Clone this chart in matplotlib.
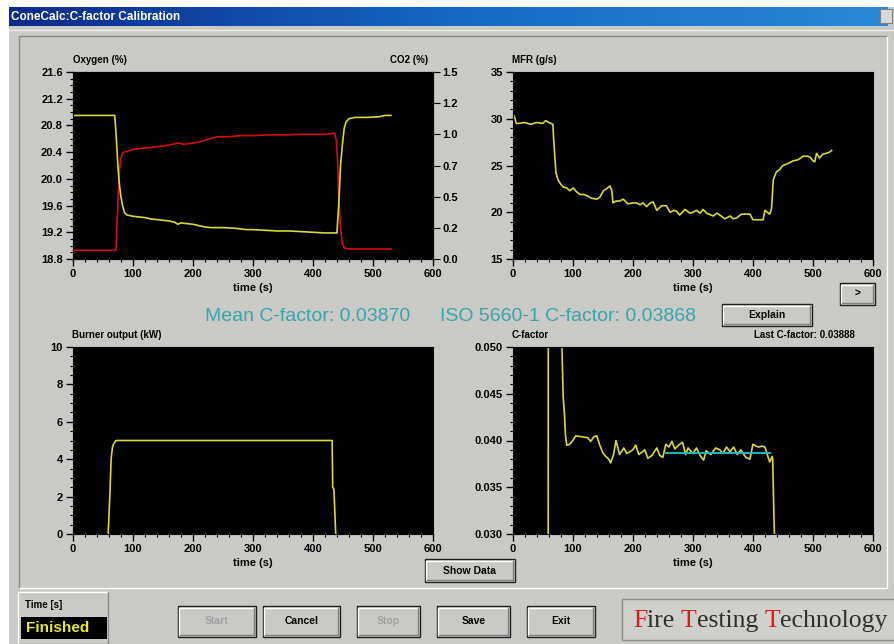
import matplotlib
matplotlib.use("Agg")
import matplotlib.pyplot as plt
import numpy as np
from matplotlib.patches import Rectangle
from matplotlib.ticker import AutoMinorLocator, FixedLocator
from matplotlib.colors import LinearSegmentedColormap

# ---- data ----
o2_t = [0, 70, 72, 74, 76, 78, 80, 83, 86, 90, 95, 100, 110, 120, 130, 140, 150, 160, 170, 175,
        180, 190, 200, 210, 220, 230, 250, 270, 290, 300, 320, 340, 360, 380, 400, 420, 440,
        443, 446, 449, 452, 455, 460, 470, 490, 510, 520, 530]
o2_v = [20.95, 20.95, 20.7, 20.4, 20.1, 19.9, 19.75, 19.6, 19.5, 19.46, 19.45, 19.44, 19.43,
        19.42, 19.40, 19.39, 19.38, 19.37, 19.35, 19.32, 19.34, 19.33, 19.32, 19.30, 19.28,
        19.27, 19.27, 19.26, 19.24, 19.24, 19.23, 19.22, 19.22, 19.21, 19.20, 19.19, 19.19,
        19.6, 20.2, 20.5, 20.75, 20.85, 20.9, 20.92, 20.92, 20.93, 20.95, 20.95]

co2_t = [0, 72, 74, 76, 78, 80, 83, 86, 90, 100, 120, 140, 156, 175, 185, 200, 212, 225, 240,
         260, 280, 300, 323, 350, 380, 400, 420, 436, 439, 441, 443, 446, 449, 452, 460, 530]
co2_v = [0.07, 0.07, 0.3, 0.55, 0.72, 0.80, 0.85, 0.86, 0.86, 0.88, 0.89, 0.90, 0.91, 0.93,
         0.92, 0.93, 0.94, 0.96, 0.98, 0.98, 0.99, 0.99, 0.995, 0.995, 1.0, 1.0, 1.0, 1.01,
         0.95, 0.8, 0.5, 0.25, 0.12, 0.09, 0.08, 0.08]

mfr_t = [0, 3, 6, 10, 20, 30, 40, 50, 55, 60, 67, 68, 70, 72, 76, 80, 84, 90, 95, 101, 106,
         112, 118, 123, 131, 140, 145, 151, 156, 162, 165, 167, 172, 178, 184, 192, 200, 206,
         212, 217, 223, 229, 234, 240, 248, 256, 262, 268, 273, 278, 287, 295, 300, 306, 312,
         317, 323, 334, 340, 345, 353, 362, 367, 373, 381, 390, 395, 400, 410, 417, 420, 424,
         428, 431, 434, 439, 445, 450, 458, 467, 475, 484, 490, 495, 500, 503, 506, 511, 516,
         522, 527, 531]
mfr_v = [30.6, 30.2, 29.5, 29.5, 29.6, 29.4, 29.6, 29.5, 29.8, 29.6, 29.4, 28.0, 26.1, 24.2,
         23.4, 23.0, 22.7, 22.6, 22.3, 22.6, 22.2, 21.9, 21.9, 21.8, 21.5, 21.4, 21.6, 22.3,
         22.5, 22.8, 22.3, 21.0, 21.2, 21.2, 21.4, 20.9, 21.0, 21.0, 20.8, 21.0, 20.6, 21.0,
         21.1, 20.2, 20.7, 20.7, 20.0, 20.2, 20.1, 19.7, 20.3, 19.9, 20.0, 20.2, 19.9, 20.3,
         19.9, 19.6, 19.9, 19.7, 19.3, 19.6, 19.3, 19.4, 19.8, 19.8, 19.8, 19.2, 19.2, 19.2,
         20.2, 20.0, 19.8, 20.4, 23.5, 24.3, 24.6, 25.0, 25.2, 25.5, 25.6, 26.0, 26.0, 25.9,
         25.5, 25.4, 26.3, 25.8, 26.2, 26.3, 26.4, 26.6]

burner_t = [59, 60, 62, 64, 66, 68, 72, 80, 432, 433, 435, 437, 438]
burner_v = [0, 0.7, 2.2, 4.0, 4.6, 4.8, 5.0, 5.0, 5.0, 2.5, 2.4, 0.8, 0]

cf_t = [59, 59.5, 81, 82, 84, 86, 88, 90, 95, 100, 105, 115, 125, 130, 135, 140, 145, 150,
        155, 160, 163, 168, 172, 178, 185, 190, 200, 205, 210, 220, 225, 232, 240, 245, 250,
        255, 260, 265, 270, 278, 283, 288, 292, 300, 306, 312, 318, 322, 330, 338, 345, 350,
        356, 362, 368, 374, 380, 388, 395, 400, 405, 410, 415, 420, 425, 428, 432, 433, 435, 438]
cf_v = [0.020, 0.080, 0.080, 0.050, 0.0447, 0.0430, 0.0405, 0.0395, 0.0396, 0.0400, 0.0405,
        0.0404, 0.0403, 0.0399, 0.0404, 0.0405, 0.0395, 0.0387, 0.0383, 0.0380, 0.0376, 0.0385,
        0.0400, 0.0385, 0.0392, 0.0386, 0.0390, 0.0395, 0.0385, 0.0390, 0.0381, 0.0384, 0.0392,
        0.0384, 0.0382, 0.0396, 0.0393, 0.0399, 0.0391, 0.0396, 0.0398, 0.0385, 0.0392, 0.0386,
        0.0392, 0.0384, 0.0379, 0.0389, 0.0385, 0.0392, 0.0390, 0.0386, 0.0393, 0.0388, 0.0393,
        0.0385, 0.0390, 0.0382, 0.0380, 0.0396, 0.0394, 0.0393, 0.0394, 0.0393, 0.0383, 0.0377,
        0.0383, 0.0380, 0.0320, 0.0250]

iso_cf = 0.03868
iso_t = [256, 428]

time_ticks = [0, 100, 200, 300, 400, 500, 600]
co2_ticks = [0, 0.25, 0.5, 0.75, 1.0, 1.25, 1.5]
co2_labels = ["0.0", "0.2", "0.5", "0.7", "1.0", "1.2", "1.5"]

W, H = 895, 644
GRAY = "#c9c9c6"
YEL = "#d8d83a"
font = "Liberation Sans"

plt.rcParams["font.family"] = [font, "DejaVu Sans"]

fig = plt.figure(figsize=(W / 100, H / 100), dpi=100)
fig.patch.set_facecolor("white")

bg = fig.add_axes([0, 0, 1, 1], zorder=-5)
bg.set_axis_off()

# window body and title bar
bg.add_patch(Rectangle((9, 7), W - 9, H - 7, fc=GRAY, ec="none", zorder=0))
cmap = LinearSegmentedColormap.from_list("tb", ["#0c2a8c", "#1668c4", "#2a8ad8"])
bg.imshow(np.linspace(0, 1, 200).reshape(1, -1), cmap=cmap, aspect="auto",
          extent=[9, 888, 26, 7], zorder=2)
bg.add_patch(Rectangle((880, 9), 12, 14, fc="#d8d8d8", ec="#808080", lw=0.8, zorder=3))
bg.text(11, 16.5, "ConeCalc:C-factor Calibration", color="white", fontsize=8.5,
        fontweight="bold", va="center", ha="left", zorder=4)
bg.plot([9, W], [30, 30], color="#eeeeee", lw=1)

# sunken frame around the plots
bg.plot([19, 19, 886], [587, 36, 36], color="#8a8a8a", lw=1)
bg.plot([20, 887, 887], [588, 588, 37], color="white", lw=1)


def button(x0, y0, x1, y1, label, color="black", size=7.5):
    bg.add_patch(Rectangle((x0, y0), x1 - x0, y1 - y0, fc=GRAY, ec="#202020", lw=1))
    bg.plot([x0 + 1.5, x0 + 1.5, x1 - 2], [y1 - 2, y0 + 1.5, y0 + 1.5], color="white", lw=1)
    bg.plot([x0 + 2, x1 - 2, x1 - 2], [y1 - 2, y1 - 2, y0 + 2], color="#808080", lw=1)
    bg.text((x0 + x1) / 2, (y0 + y1) / 2, label, ha="center", va="center",
            fontsize=size, fontweight="bold", color=color)


button(722, 304, 812, 326, "Explain")
button(840, 283, 875, 305, ">")
button(425, 559, 515, 582, "Show Data")
button(178, 606, 256, 637, "Start", color="#a0a0a0")
button(263, 606, 340, 637, "Cancel")
button(357, 606, 420, 637, "Stop", color="#a0a0a0")
button(437, 606, 510, 637, "Save")
button(527, 606, 595, 637, "Exit")

# time box
bg.plot([18, 18, 108], [644, 592, 592], color="white", lw=1)
bg.plot([17, 108, 108], [644, 644, 592], color="#8a8a8a", lw=1)
bg.text(25, 605, "Time [s]", fontsize=7, fontweight="bold", va="center")
bg.add_patch(Rectangle((21, 617), 86, 22, fc="black", ec="none"))
bg.text(26, 628, "Finished", fontsize=11, fontweight="bold", color="#e8e830", va="center")

# logo box
bg.add_patch(Rectangle((622, 599), 280, 41, fc="#cfcfcc", ec="#8a8a8a", lw=1))
lx = 633
for part, col in [("F", "#e01818"), ("ire ", "#303030"), ("T", "#e01818"), ("esting ", "#303030"),
                  ("T", "#e01818"), ("echnology", "#303030")]:
    t = bg.text(lx, 621, part, fontsize=18.5, family="Liberation Serif", color=col, va="center")
    fig.canvas.draw()
    bb = t.get_window_extent()
    lx += bb.width

bg.text(205, 316, "Mean C-factor: 0.03870", fontsize=14, color="#3aa6ae", va="center")
bg.text(440, 316, "ISO 5660-1 C-factor: 0.03868", fontsize=14, color="#3aa6ae", va="center")

bg.set_xlim(0, W)
bg.set_ylim(H, 0)


def make_axes(x0, y0, x1, y1):
    ax = fig.add_axes([x0 / W, 1 - y1 / H, (x1 - x0) / W, (y1 - y0) / H])
    ax.set_facecolor("black")
    ax.set_xlim(0, 600)
    ax.set_xticks(time_ticks)
    ax.xaxis.set_minor_locator(AutoMinorLocator(5))
    ax.tick_params(which="major", length=5, width=1, labelsize=8, pad=2)
    ax.tick_params(which="minor", length=2.5, width=0.8)
    ax.set_xlabel("time (s)", fontsize=8, fontweight="bold", labelpad=3)
    return ax


def bold_ticks(ax):
    for lab in ax.get_xticklabels() + ax.get_yticklabels():
        lab.set_fontweight("bold")


# oxygen / CO2
ax1 = make_axes(72.7, 72, 433, 259)
ax1.plot(o2_t, o2_v, color=YEL, lw=1.2)
ax1.set_ylim(18.8, 21.6)
ax1.set_yticks([18.8, 19.2, 19.6, 20.0, 20.4, 20.8, 21.2, 21.6])
ax1.yaxis.set_minor_locator(AutoMinorLocator(4))
ax1b = ax1.twinx()
ax1b.plot(co2_t, co2_v, color="#d01010", lw=1.2)
ax1b.set_ylim(0, 1.5)
ax1b.yaxis.set_major_locator(FixedLocator(co2_ticks))
ax1b.set_yticklabels(co2_labels)
ax1b.tick_params(length=5, labelsize=8, pad=2)
ax1b.set_zorder(ax1.get_zorder() - 1)
ax1.set_zorder(ax1b.get_zorder() + 1)
ax1.patch.set_visible(False)
ax1b.patch.set_facecolor("black")
ax1b.patch.set_visible(True)
ax1.set_yticklabels([f"{v:.1f}" for v in ax1.get_yticks()])
bold_ticks(ax1)
bold_ticks(ax1b)
bg.text(73, 60, "Oxygen (%)", fontsize=7, fontweight="bold", va="center")
bg.text(428, 60, "CO2 (%)", fontsize=7, fontweight="bold", va="center", ha="right")

# MFR
ax2 = make_axes(512.7, 72, 873, 259)
ax2.plot(mfr_t, mfr_v, color=YEL, lw=1.2)
ax2.set_ylim(15, 35)
ax2.set_yticks([15, 20, 25, 30, 35])
ax2.yaxis.set_minor_locator(AutoMinorLocator(5))
bold_ticks(ax2)
bg.text(512, 60, "MFR (g/s)", fontsize=7, fontweight="bold", va="center")

# burner output
ax3 = make_axes(72.7, 347, 433, 534)
ax3.plot(burner_t, burner_v, color=YEL, lw=1.2)
ax3.set_ylim(0, 10)
ax3.set_yticks([0, 2, 4, 6, 8, 10])
ax3.yaxis.set_minor_locator(AutoMinorLocator(4))
bold_ticks(ax3)
bg.text(72, 335, "Burner output (kW)", fontsize=7, fontweight="bold", va="center")

# C-factor
ax4 = make_axes(512.7, 347, 873, 534)
ax4.plot(cf_t, cf_v, color=YEL, lw=1.2)
ax4.plot(iso_t, [iso_cf, iso_cf], color="#2ab4b8", lw=1.4)
ax4.set_ylim(0.030, 0.050)
ax4.set_yticks([0.030, 0.035, 0.040, 0.045, 0.050])
ax4.set_yticklabels(["0.030", "0.035", "0.040", "0.045", "0.050"])
ax4.yaxis.set_minor_locator(AutoMinorLocator(5))
bold_ticks(ax4)
bg.text(512, 335, "C-factor", fontsize=7, fontweight="bold", va="center")
bg.text(855, 335, "Last C-factor: 0.03888", fontsize=7, fontweight="bold", va="center", ha="right")

fig.savefig("out.png", dpi=100, facecolor=fig.get_facecolor())
